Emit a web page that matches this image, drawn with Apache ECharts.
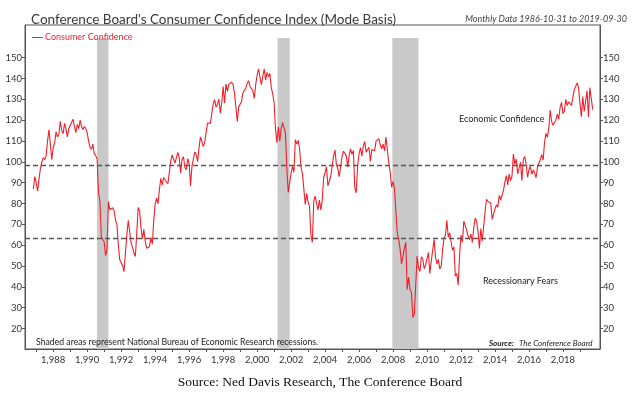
<!DOCTYPE html>
<html>
<head>
<meta charset="utf-8">
<script src="https://cdn.jsdelivr.net/npm/echarts@6/dist/echarts.min.js"></script>
<style>
  html, body { margin: 0; padding: 0; background: #fff; }
  #chart { width: 640px; height: 397px; }
</style>
</head>
<body>
<div id="chart"></div>
<script>
// monthly index values, first point is 1986-10, one row per year
var startYear = 1986;
var startMonth = 10;
var cci = [
  87, 93, 90,
  86, 92, 97, 100, 102, 101, 103, 110, 115.5, 115, 101, 107,
  109, 114.5, 112, 113, 119.5, 115, 113.5, 118.5, 116, 112, 116, 117.5,
  117, 120.5, 117, 114, 118, 116, 120, 117, 115.5, 117, 116, 114,
  110, 107, 106, 108.5, 104, 103, 101.5, 85, 81, 64, 63.5, 61.5,
  55, 58, 81, 77, 77, 78, 76.5, 72, 70, 60, 53, 52.5,
  50.2, 47.3, 56.5, 65.1, 71.9, 72.6, 61.2, 59.0, 56.4, 54.6, 65.6, 78.1,
  76.7, 68.5, 63.2, 67.6, 61.9, 58.6, 59.2, 59.3, 63.8, 60.5, 71.9, 79.8,
  82.6, 79.9, 86.7, 92.1, 88.9, 92.5, 91.3, 90.4, 89.5, 89.1, 100.4, 103.4,
  101.4, 99.4, 100.2, 104.6, 102.0, 94.6, 101.4, 102.4, 97.3, 96.3, 101.6, 99.2,
  88.4, 98.0, 98.4, 104.8, 103.5, 100.1, 107.0, 112.0, 111.8, 107.3, 109.5, 114.2,
  118.7, 118.9, 118.5, 118.5, 127.9, 129.9, 126.3, 127.6, 130.2, 123.4, 128.1, 136.2,
  128.3, 137.4, 133.8, 137.2, 136.3, 138.2, 137.2, 133.1, 126.4, 119.3, 126.4, 126.7,
  128.9, 133.1, 134.0, 135.5, 137.7, 139.0, 136.2, 136.0, 134.2, 130.5, 137.0, 141.7,
  144.7, 140.8, 137.1, 137.7, 144.7, 139.2, 143.0, 140.8, 142.5, 135.8, 132.6, 128.6,
  115.7, 109.2, 116.9, 109.9, 116.1, 118.9, 116.3, 114.0, 97.0, 85.3, 84.9, 94.6,
  97.8, 95.0, 110.7, 108.5, 110.3, 106.3, 97.4, 94.5, 93.7, 79.6, 84.9, 80.7,
  78.8, 64.8, 61.4, 81.0, 83.6, 83.5, 77.0, 81.7, 77.0, 81.7, 92.5, 94.8,
  97.7, 88.5, 88.5, 93.0, 93.1, 102.8, 105.7, 98.7, 96.7, 92.9, 92.6, 102.7,
  105.1, 104.4, 103.0, 97.5, 103.1, 106.2, 103.6, 105.5, 87.5, 85.2, 98.3, 103.8,
  106.8, 102.7, 107.5, 109.8, 104.7, 105.4, 107.0, 100.2, 105.9, 105.1, 105.3, 110.0,
  110.2, 111.2, 108.2, 106.3, 108.5, 105.3, 111.9, 105.6, 99.5, 95.2, 87.8, 90.6,
  87.3, 76.4, 65.9, 62.8, 58.1, 51.0, 51.9, 58.5, 61.4, 38.8, 44.7, 38.6,
  37.4, 25.3, 26.9, 40.8, 54.8, 49.3, 47.4, 54.5, 53.4, 48.7, 50.6, 53.6,
  56.5, 46.4, 52.3, 57.7, 62.7, 54.3, 51.0, 53.2, 48.6, 49.9, 57.8, 63.4,
  64.8, 72.0, 63.8, 66.0, 61.7, 57.6, 59.2, 45.2, 46.4, 40.9, 55.2, 64.8,
  61.5, 71.6, 69.5, 68.7, 64.4, 62.7, 65.4, 61.3, 68.4, 73.1, 71.5, 66.7,
  58.4, 68.0, 61.9, 69.0, 76.2, 82.1, 81.0, 81.8, 80.2, 72.4, 72.0, 77.5,
  79.4, 78.3, 83.9, 81.7, 82.2, 86.4, 90.3, 93.4, 89.0, 94.1, 91.0, 93.1,
  103.8, 98.8, 101.4, 94.3, 94.6, 99.8, 91.0, 101.3, 102.6, 99.1, 92.6, 96.3,
  97.8, 94.0, 96.2, 94.7, 92.4, 97.4, 96.7, 101.1, 103.5, 100.8, 109.4, 113.7,
  111.8, 116.1, 124.9, 119.4, 117.6, 117.3, 120.0, 122.9, 120.6, 126.2, 128.6, 123.1,
  124.3, 130.0, 127.0, 128.8, 128.8, 127.1, 127.9, 134.7, 135.3, 137.9, 135.7, 128.1,
  121.7, 131.4, 124.2, 129.2, 134.1, 121.5, 135.7, 135.1, 125.1
];

// NBER recessions, in decimal years
var recessions = [
  [1990.58, 1991.25],
  [2001.2, 2001.92],
  [2007.96, 2009.5]
];

var refLines = [98.2, 63.2];
var yTicks = [20, 30, 40, 50, 60, 70, 80, 90, 100, 110, 120, 130, 140, 150];
var yearLabels = [1988, 1990, 1992, 1994, 1996, 1998, 2000, 2002, 2004, 2006, 2008, 2010, 2012, 2014, 2016, 2018];
var yearTicks = [];
for (var yr = 1987; yr <= 2019; yr++) yearTicks.push(yr);

var points = cci.map(function (v, i) {
  var m = startMonth - 1 + i;
  return [startYear + Math.floor(m / 12) + ((m % 12) + 1) / 12, v];
});

var font = 'Lato';
var textColor = '#333';
var yMin = 10.2, yMax = 165.7;

var chart = echarts.init(document.getElementById('chart'));

var yAxisBase = {
  type: 'value',
  min: yMin,
  max: yMax,
  splitLine: { show: false },
  axisLine: { show: true, lineStyle: { color: '#555' } },
  axisTick: { show: true, length: 3, customValues: yTicks, lineStyle: { color: '#555' } },
  axisLabel: { customValues: yTicks, fontFamily: font, fontSize: 9.5, color: textColor, margin: 3 }
};

var option = {
  animation: false,
  backgroundColor: '#fff',
  title: [
    {
      text: "Conference Board's Consumer Confidence Index (Mode Basis)",
      left: 26, top: 8,
      textStyle: { fontFamily: font, fontSize: 13.5, fontWeight: 'normal', color: '#3a3a3a' }
    },
    {
      text: 'Monthly Data 1986-10-31 to 2019-09-30',
      right: 8, top: 10,
      textStyle: { fontFamily: font, fontSize: 9, fontStyle: 'italic', fontWeight: 'normal', color: '#444' }
    },
    {
      text: 'Source: Ned Davis Research, The Conference Board',
      left: 'center', top: 370,
      textStyle: { fontFamily: 'Liberation Serif', fontSize: 13.5, fontWeight: 'normal', color: '#111' }
    }
  ],
  legend: {
    left: 27, top: 28,
    icon: 'rect',
    itemWidth: 11, itemHeight: 1,
    itemGap: 2,
    selectedMode: false,
    data: ['Consumer Confidence'],
    textStyle: { fontFamily: font, fontSize: 9, color: '#f0202a', padding: [0, 0, 0, -3] }
  },
  grid: {
    left: 25, right: 40, top: 25, bottom: 48,
    show: true, borderColor: '#555', borderWidth: 1,
    outerBoundsMode: 'none'
  },
  xAxis: {
    type: 'value',
    min: 1986.34,
    max: 2020.18,
    splitLine: { show: false },
    axisLine: { show: true, lineStyle: { color: '#555' } },
    axisTick: { show: true, length: 3, customValues: yearTicks, lineStyle: { color: '#555' } },
    axisLabel: { customValues: yearLabels, fontFamily: font, fontSize: 9.5, color: textColor, margin: 6 }
  },
  yAxis: [
    Object.assign({}, yAxisBase, { position: 'left' }),
    Object.assign({}, yAxisBase, { position: 'right' })
  ],
  series: [
    {
      name: 'recessions',
      type: 'line',
      data: [],
      z: 1,
      markArea: {
        silent: true,
        itemStyle: { color: '#c9c9c9' },
        data: recessions.map(function (r) {
          return [{ xAxis: r[0], yAxis: 159.5 }, { xAxis: r[1], yAxis: yMin }];
        })
      }
    },
    {
      name: 'Consumer Confidence',
      type: 'line',
      data: points,
      z: 3,
      symbol: 'none',
      color: '#f0202a',
      lineStyle: { width: 1.1, color: '#f0202a' },
      markLine: {
        silent: true,
        symbol: 'none',
        label: { show: false },
        lineStyle: { color: '#555', width: 1.3, type: [5, 3] },
        data: refLines.map(function (v) { return { yAxis: v }; })
      }
    }
  ],
  graphic: [
    { type: 'text', z: 100, left: 459, top: 115, style: { text: 'Economic Confidence', font: '9px Lato', fill: '#222' } },
    { type: 'text', z: 100, left: 483, top: 277, style: { text: 'Recessionary Fears', font: '9px Lato', fill: '#222' } },
    { type: 'text', z: 100, left: 36, top: 338, style: { text: 'Shaded areas represent National Bureau of Economic Research recessions.', font: '8.7px Lato', fill: '#222' } },
    { type: 'text', z: 100, left: 489, top: 339, style: { text: 'Source:', font: 'italic bold 8px Lato', fill: '#222' } },
    { type: 'text', z: 100, left: 519, top: 339, style: { text: 'The Conference Board', font: 'italic 8px Lato', fill: '#222' } }
  ]
};

chart.setOption(option);
</script>
</body>
</html>
